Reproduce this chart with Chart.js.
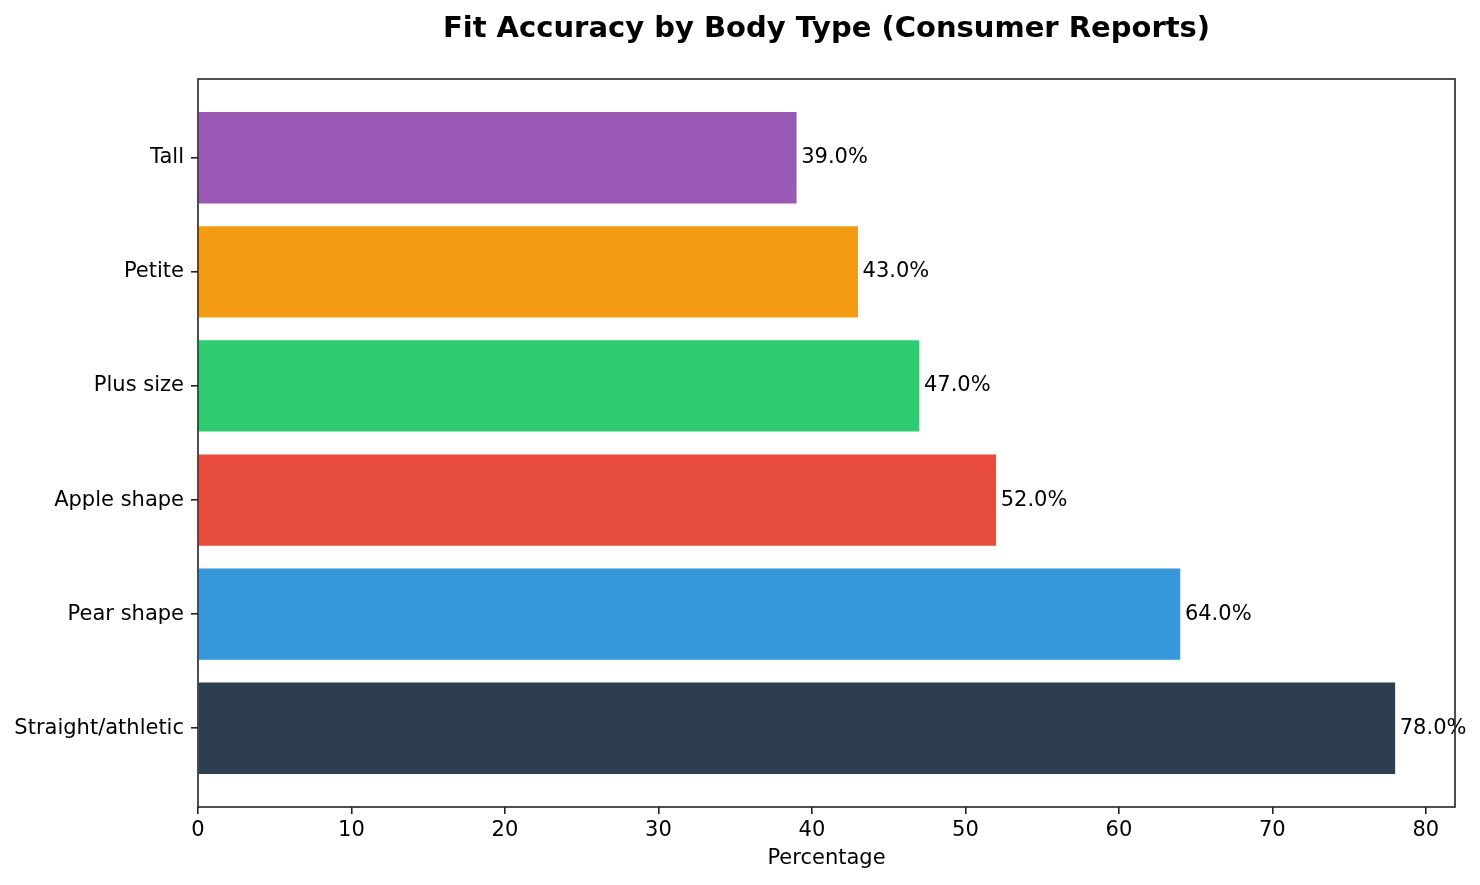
<!DOCTYPE html>
<html>
<head>
<meta charset="utf-8">
<title>Fit Accuracy by Body Type</title>
<script src="https://cdn.jsdelivr.net/npm/chart.js@4/dist/chart.umd.min.js"></script>
<style>
    body { margin: 0; background: #fff; }
    #fitChart { display: block; }
</style>
</head>
<body>
<canvas id="fitChart" width="1480" height="885"></canvas>
<script>
// Data (bottom to top, as drawn)
const bodyTypes = ['Straight/athletic', 'Pear shape', 'Apple shape', 'Plus size', 'Petite', 'Tall'];
const fitPercent = [78, 64, 52, 47, 43, 39];
const barColors = ['#2c3e50', '#3498db', '#e74c3c', '#2ecc71', '#f39c12', '#9b59b6'];
const xTickValues = [0, 10, 20, 30, 40, 50, 60, 70, 80];

const FONT = "'DejaVu Sans', 'Liberation Sans', sans-serif";
const AXIS_COLOR = '#222';

// Title over the plot area, like matplotlib centres it
const titlePlugin = {
    id: 'plotTitle',
    afterDraw(chart) {
        const ctx = chart.ctx;
        const area = chart.chartArea;
        ctx.save();
        ctx.font = 'bold 29px ' + FONT;
        ctx.fillStyle = '#000';
        ctx.textAlign = 'center';
        ctx.textBaseline = 'alphabetic';
        ctx.fillText('Fit Accuracy by Body Type (Consumer Reports)', (area.left + area.right) / 2, 37);
        ctx.restore();
    }
};

// Value labels at the end of each bar + frame around the axes
const valueLabels = {
    id: 'valueLabels',
    afterDatasetsDraw(chart) {
        const ctx = chart.ctx;
        const xScale = chart.scales.x;
        const meta = chart.getDatasetMeta(0);
        ctx.save();
        ctx.font = '21px ' + FONT;
        ctx.fillStyle = '#000';
        ctx.textAlign = 'left';
        ctx.textBaseline = 'middle';
        meta.data.forEach((bar, i) => {
            const v = fitPercent[i];
            ctx.fillText(v.toFixed(1) + '%', xScale.getPixelForValue(v + 0.3), bar.y);
        });

        const a = chart.chartArea;
        ctx.strokeStyle = AXIS_COLOR;
        ctx.lineWidth = 1.6;
        ctx.strokeRect(a.left, a.top, a.right - a.left, a.bottom - a.top);
        ctx.restore();
    }
};

const ctx = document.getElementById('fitChart').getContext('2d');

new Chart(ctx, {
    type: 'bar',
    data: {
        datasets: [{
            data: bodyTypes.map((name, i) => ({ x: fitPercent[i], y: i })),
            backgroundColor: barColors,
            borderWidth: 0,
            categoryPercentage: 0.8,
            barPercentage: 1.0
        }]
    },
    options: {
        indexAxis: 'y',
        responsive: false,
        devicePixelRatio: 1,
        animation: false,
        layout: {
            padding: { top: 79, right: 25, bottom: 0, left: 0 }
        },
        scales: {
            x: {
                type: 'linear',
                min: 0,
                max: 81.9,
                afterFit: function(scale) { scale.height = 78; },
                afterBuildTicks: function(scale) {
                    scale.ticks = xTickValues.map(v => ({ value: v }));
                },
                border: { display: false },
                grid: {
                    drawOnChartArea: false,
                    drawTicks: true,
                    tickLength: 7,
                    color: AXIS_COLOR,
                    lineWidth: 1.6
                },
                ticks: {
                    color: '#000',
                    font: { family: FONT, size: 21 },
                    padding: 4,
                    maxRotation: 0
                },
                title: {
                    display: true,
                    text: 'Percentage',
                    color: '#000',
                    font: { family: FONT, size: 21 },
                    padding: { top: 0, bottom: 14 }
                }
            },
            y: {
                type: 'linear',
                min: -0.69,
                max: 5.69,
                offset: false,
                afterFit: function(scale) { scale.width = 198; },
                afterBuildTicks: function(scale) {
                    scale.ticks = bodyTypes.map((name, i) => ({ value: i }));
                },
                border: { display: false },
                grid: {
                    offset: false,
                    drawOnChartArea: false,
                    drawTicks: true,
                    tickLength: 7,
                    color: AXIS_COLOR,
                    lineWidth: 1.6
                },
                ticks: {
                    color: '#000',
                    font: { family: FONT, size: 21 },
                    padding: 7,
                    callback: function(value) {
                        return bodyTypes[value];
                    }
                }
            }
        },
        plugins: {
            legend: { display: false },
            title: { display: false },
            tooltip: { enabled: false }
        }
    },
    plugins: [valueLabels, titlePlugin]
});
</script>
</body>
</html>
